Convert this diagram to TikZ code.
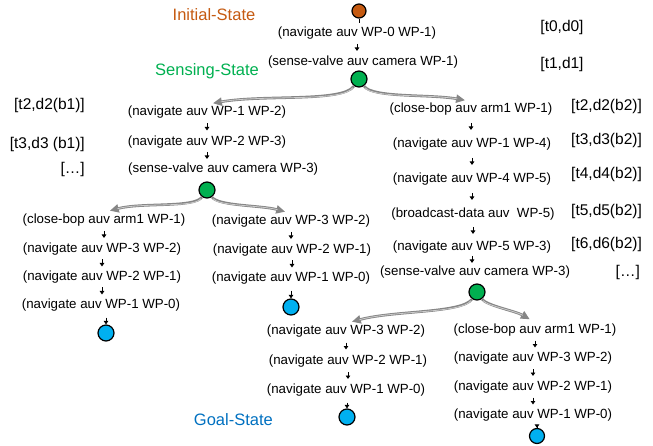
\documentclass[tikz,border=0pt]{standalone}
\usepackage{fontspec}
\setmainfont{Liberation Sans}
\usetikzlibrary{arrows.meta,calc}
\definecolor{initcol}{RGB}{197,90,17}
\definecolor{sensecol}{RGB}{0,176,80}
\definecolor{goalcol}{RGB}{0,176,240}
\definecolor{goaltext}{RGB}{0,112,192}
\tikzset{
 act/.style={font=\fontsize{13.3}{15}\selectfont, inner sep=1pt, text height=10pt, text depth=3pt},
 stamp/.style={font=\fontsize{15.5}{17}\selectfont, inner sep=0pt, text height=11pt, text depth=3.3pt},
 statename/.style={font=\fontsize{16.5}{18}\selectfont, inner sep=0pt, text height=12pt, text depth=3.5pt},
 flowarrow/.style={-{Triangle[length=3.5pt,width=4.5pt]}, line width=0.9pt},
 branch/.style={-{Triangle[length=9pt,width=8pt]}, draw=gray!95, line width=2.6pt, shorten >=6pt,
   postaction={draw=gray!40, line width=0.8pt, -, shorten >=14pt, shorten <=2pt}},
}
\newcommand{\statedot}[3]{%
 \node[circle, draw=black, line width=1.2pt, inner sep=0pt, #3] ({#1}) at ({#2}) {};%
}
\newcommand{\action}[3]{%
 \node[act] ({#1}) at ({#2}) {{#3}};%
}
\newcommand{\stepflow}[2]{%
 \draw[flowarrow] ($(#1.south)!.5!(#1.south|-#2.north)$) ++(0,-3.5) -- ++(0,7);%
}
\newcommand{\goalflow}[2]{%
 \draw[flowarrow, shorten <=5pt] (#2.north|-#1.south) -- (#2.north);%
}

\begin{document}
\begin{tikzpicture}[x=1pt,y=-1pt]
  \useasboundingbox (0,0) rectangle (653,446);
  % initial part
  \statedot{init}{359,11}{fill=initcol, minimum size=14pt}
  \draw[line width=1pt] (init.south) -- ++(0,4);
  \node[statename, text=initcol] (initlabel) at (214,16) {Initial-State};
  \action{a0}{357,33}{(navigate auv WP-0 WP-1)}
  \action{a1}{363,62}{(sense-valve auv camera WP-1)}
  \statedot{s1}{359,79}{fill=sensecol, minimum size=16pt}
  \node[statename, text=sensecol] (senselabel) at (207,71) {Sensing-State};
  \node[stamp] (t0) at (562,28) {[t0,d0]};
  \node[stamp] (t1) at (562,65) {[t1,d1]};
  \stepflow{a0}{a1}
  % branch b1
  \action{l1}{207,112}{(navigate auv WP-1 WP-2)}
  \action{l2}{207,142}{(navigate auv WP-2 WP-3)}
  \node[act, anchor=west] (l3) at (127,169) {(sense-valve auv camera WP-3)};
  \statedot{s2}{207,190}{fill=sensecol, minimum size=16pt}
  \node[stamp, anchor=east] (lt2) at (85,106) {[t2,d2(b1)]};
  \node[stamp, anchor=east] (lt3) at (85,145) {[t3,d3 (b1)]};
  \node[stamp, anchor=east] (ldots) at (85,170) {[…]};
  \stepflow{l1}{l2}
  \stepflow{l2}{l3}
  \action{ll1}{104,220}{(close-bop auv arm1 WP-1)}
  \action{ll2}{102,249}{(navigate auv WP-3 WP-2)}
  \action{ll3}{102,277}{(navigate auv WP-2 WP-1)}
  \action{ll4}{101,305}{(navigate auv WP-1 WP-0)}
  \statedot{g1}{106,333}{fill=goalcol, minimum size=16pt}
  \stepflow{ll1}{ll2}
  \stepflow{ll2}{ll3}
  \stepflow{ll3}{ll4}
  \goalflow{ll4}{g1}
  \action{lr1}{291,221}{(navigate auv WP-3 WP-2)}
  \action{lr2}{292,250}{(navigate auv WP-2 WP-1)}
  \action{lr3}{291,278}{(navigate auv WP-1 WP-0)}
  \statedot{g2}{291,307}{fill=goalcol, minimum size=16pt}
  \stepflow{lr1}{lr2}
  \stepflow{lr2}{lr3}
  \goalflow{lr3}{g2}
  % branch b2
  \action{r1}{471,109}{(close-bop auv arm1 WP-1)}
  \action{r2}{472,144}{(navigate auv WP-1 WP-4)}
  \action{r3}{472,179}{(navigate auv WP-4 WP-5)}
  \action{r4}{473,214}{(broadcast-data auv~ WP-5)}
  \action{r5}{472,247}{(navigate auv WP-5 WP-3)}
  \action{r6}{475,272}{(sense-valve auv camera WP-3)}
  \statedot{s3}{477,292}{fill=sensecol, minimum size=16pt}
  \node[stamp, anchor=west] (rt2) at (571,107) {[t2,d2(b2)]};
  \node[stamp, anchor=west] (rt3) at (571,141) {[t3,d3(b2)]};
  \node[stamp, anchor=west] (rt4) at (571,175) {[t4,d4(b2)]};
  \node[stamp, anchor=west] (rt5) at (571,212) {[t5,d5(b2)]};
  \node[stamp, anchor=west] (rt6) at (571,245) {[t6,d6(b2)]};
  \node[stamp, anchor=east] (rdots) at (640,273) {[…]};
  \stepflow{r1}{r2}
  \stepflow{r2}{r3}
  \stepflow{r3}{r4}
  \stepflow{r4}{r5}
  \stepflow{r5}{r6}
  \action{bl1}{346,331}{(navigate auv WP-3 WP-2)}
  \action{bl2}{348,361}{(navigate auv WP-2 WP-1)}
  \action{bl3}{346,390}{(navigate auv WP-1 WP-0)}
  \statedot{g3}{347,417}{fill=goalcol, minimum size=16pt}
  \node[statename, text=goaltext, anchor=east] (goallabel) at (273,421) {Goal-State};
  \stepflow{bl1}{bl2}
  \stepflow{bl2}{bl3}
  \goalflow{bl3}{g3}
  \action{br1}{535,330}{(close-bop auv arm1 WP-1)}
  \action{br2}{533,358}{(navigate auv WP-3 WP-2)}
  \action{br3}{533,387}{(navigate auv WP-2 WP-1)}
  \action{br4}{533,415}{(navigate auv WP-1 WP-0)}
  \statedot{g4}{537,436}{fill=goalcol, minimum size=15pt}
  \stepflow{br1}{br2}
  \stepflow{br2}{br3}
  \stepflow{br3}{br4}
  \goalflow{br4}{g4}
  % branching arrows
  \draw[branch] (s1) to[out=235,in=10,out looseness=0.35] (l1.north);
  \draw[branch] (s1) to[out=-55,in=170,out looseness=0.35] (r1.north);
  \draw[branch] (s2) to[out=235,in=15,out looseness=0.35] (ll1.north);
  \draw[branch] (s2) to[out=-55,in=165,out looseness=0.35] (lr1.north);
  \draw[branch] (s3) to[out=235,in=15,out looseness=0.35] (bl1.north);
  \draw[branch] (s3) to[out=-55,in=150,out looseness=0.35] (br1.north);
\end{tikzpicture}
\end{document}
